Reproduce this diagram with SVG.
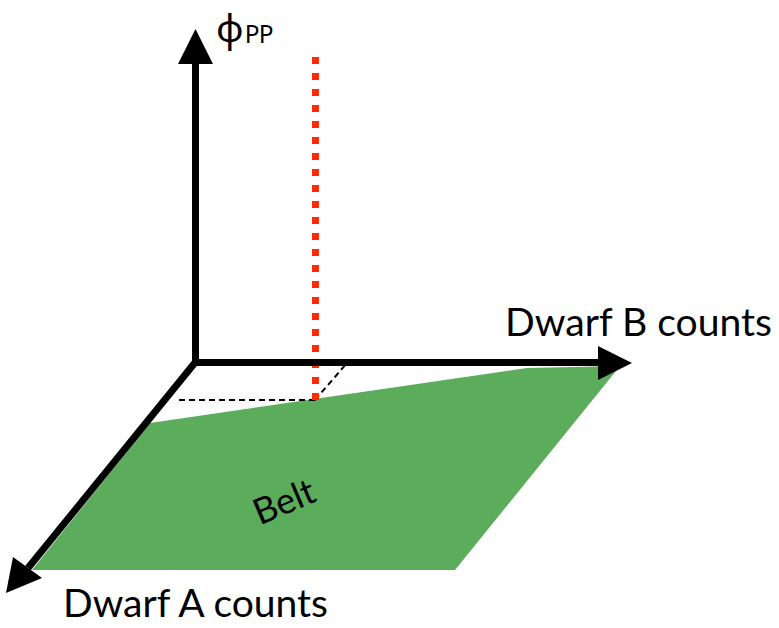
<svg xmlns="http://www.w3.org/2000/svg" width="779" height="628" viewBox="0 0 779 628">
<style>
.lbl{font-family:Lato,"Open Sans","Liberation Sans",sans-serif;fill:#000}
.axis{stroke:#000;stroke-width:7;fill:none}
.head{fill:#000}
.guide{stroke:#000;stroke-width:2;stroke-dasharray:6 4;fill:none}
</style>
<rect width="779" height="628" fill="#fff"/>
<g id="belt">
<polygon points="150,423 527,368 620,366 455,570 32,570" fill="#5bad5c"/>
<text class="lbl" x="0" y="0" font-size="36" text-anchor="middle" transform="translate(289,513) rotate(-23)">Belt</text>
</g>
<g id="connectors">
<line class="guide" x1="179" y1="400" x2="315" y2="400"/>
<line class="guide" x1="315" y1="400" x2="347" y2="363"/>
<line x1="315.5" y1="57" x2="315.5" y2="400" stroke="#ff2a00" stroke-width="7" stroke-dasharray="7 9"/>
<line class="axis" x1="195.5" y1="366" x2="195.5" y2="62"/>
<polygon class="head" points="195.5,29 213,64 178,64"/>
<line class="axis" x1="192" y1="362.5" x2="600" y2="362.5"/>
<polygon class="head" points="632,363 598,346 598,380"/>
<line class="axis" x1="195.5" y1="362" x2="28" y2="568"/>
<polygon class="head" points="6,593 13,557 42,578"/>
</g>
<g id="phi-label">
<text x="216" y="42" font-family="'Noto Sans','DejaVu Sans',sans-serif" font-size="38">ϕ</text>
<text class="lbl" x="245" y="43" font-size="25" textLength="28" lengthAdjust="spacingAndGlyphs">PP</text>
</g>
<g id="dwarf-b-label">
<text class="lbl" x="505" y="336" font-size="39" textLength="267" lengthAdjust="spacingAndGlyphs">Dwarf B counts</text>
</g>
<g id="dwarf-a-label">
<text class="lbl" x="63" y="617" font-size="39" textLength="265" lengthAdjust="spacingAndGlyphs">Dwarf A counts</text>
</g>
</svg>
